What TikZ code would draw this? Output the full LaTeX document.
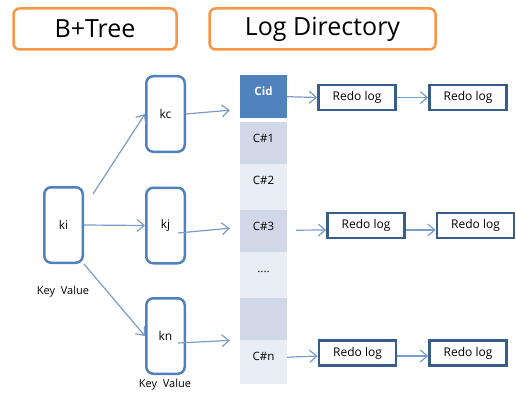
\documentclass[tikz,border=0pt]{standalone}
\usepackage{fontspec}
\setmainfont{Open Sans}
\usetikzlibrary{arrows.meta}
\definecolor{Head}{HTML}{F79646}
\definecolor{Key}{HTML}{4F81BD}
\definecolor{Cid}{HTML}{4F81BD}
\definecolor{Dark}{HTML}{D0D8E8}
\definecolor{Light}{HTML}{E9EDF4}
\definecolor{Log}{HTML}{385D8A}
\definecolor{Link}{HTML}{7A9CC9}

\tikzset{
    header/.style={draw=Head, line width=2.5pt, rounded corners=6pt, minimum height=41pt, font=\fontsize{25}{25}\selectfont},
    keybox/.style={draw=Key, line width=2.5pt, rounded corners=7pt, minimum width=38.5pt, minimum height=75.5pt, font=\fontsize{12}{12}\selectfont},
    cell/.style={inner sep=0pt, minimum width=47pt, text height=20pt, anchor=north, font=\fontsize{11.5}{11.5}\selectfont},
    redo/.style={draw=Log, line width=2.6pt, minimum width=77pt, minimum height=25pt, font=\fontsize{12}{12}\selectfont},
    link/.style={draw=Link, line width=1.2pt, -{Straight Barb[length=7pt,width=12pt]}},
    note/.style={font=\fontsize{11}{11}\selectfont}
}

\begin{document}
\begin{tikzpicture}[x=1pt, y=-1pt]
    \useasboundingbox (0,0) rectangle (516,393);

    \node at (95, 29) (tree) [header, minimum width=163pt] {B+Tree};
    \node at (322.5, 29) (dir) [header, minimum width=226pt] {Log Directory};

    \node at (63.5, 225) (ki) [keybox] {ki};
    \node at (165.5, 114) (kc) [keybox] {kc};
    \node at (165.5, 225.5) (kj) [keybox] {kj};
    \node at (165.5, 336) (kn) [keybox] {kn};
    \node at (63, 292) (kilabel) [note] {Key\ \ Value};
    \node at (165, 385) (knlabel) [note] {Key\ \ Value};

    \node at (263.5, 75) (cid) [cell, fill=Cid, text=white, text depth=23pt, font=\fontsize{11.5}{11.5}\selectfont\bfseries] {Cid};
    \node at (263.5, 122) (c1) [cell, fill=Dark, text depth=22pt] {C\#1};
    \node at (263.5, 164) (c2) [cell, fill=Light, text depth=26pt] {C\#2};
    \node at (263.5, 210) (c3) [cell, fill=Dark, text depth=22pt] {C\#3};
    \node at (263.5, 252) (cdots) [cell, fill=Light, text depth=26pt] {....};
    \node at (263.5, 298) (cblank) [cell, fill=Dark, text depth=22pt] {};
    \node at (263.5, 340) (cn) [cell, fill=Light, text depth=24pt] {C\#n};

    \node at (357, 97.5) (r1a) [redo] {Redo log};
    \node at (468, 97.5) (r1b) [redo] {Redo log};
    \node at (366, 225.5) (r2a) [redo] {Redo log};
    \node at (475.5, 225.5) (r2b) [redo] {Redo log};
    \node at (357.5, 353) (r3a) [redo] {Redo log};
    \node at (468, 353) (r3b) [redo] {Redo log};

    \draw[link] ([shift={(9,8)}]ki.north east) -- (kc.west);
    \draw[link] (ki.east) -- (kj.west);
    \draw[link] (ki.south east) -- (kn.west);

    \draw[link] (kc.east) -- ([shift={(-10,13.5)}]cid.west);
    \draw[link] ([shift={(-8,7.5)}]kj.east) -- ([shift={(-10,-3)}]c3.west);
    \draw[link] ([shift={(-8,7)}]kn.east) -- ([shift={(-10,0)}]cblank.south west);

    \draw[link] (cid.east) -- (r1a.west);
    \draw[link] (r1a.east) -- (r1b.west);
    \draw[link] ([shift={(9,-1)}]c3.east) -- ([shift={(0,4.5)}]r2a.west);
    \draw[link] ([shift={(0,4.5)}]r2a.east) -- ([shift={(0,4.5)}]r2b.west);
    \draw[link] ([shift={(0,-5)}]cn.east) -- ([shift={(0,3)}]r3a.west);
    \draw[link] ([shift={(0,3)}]r3a.east) -- ([shift={(0,3)}]r3b.west);
\end{tikzpicture}
\end{document}
